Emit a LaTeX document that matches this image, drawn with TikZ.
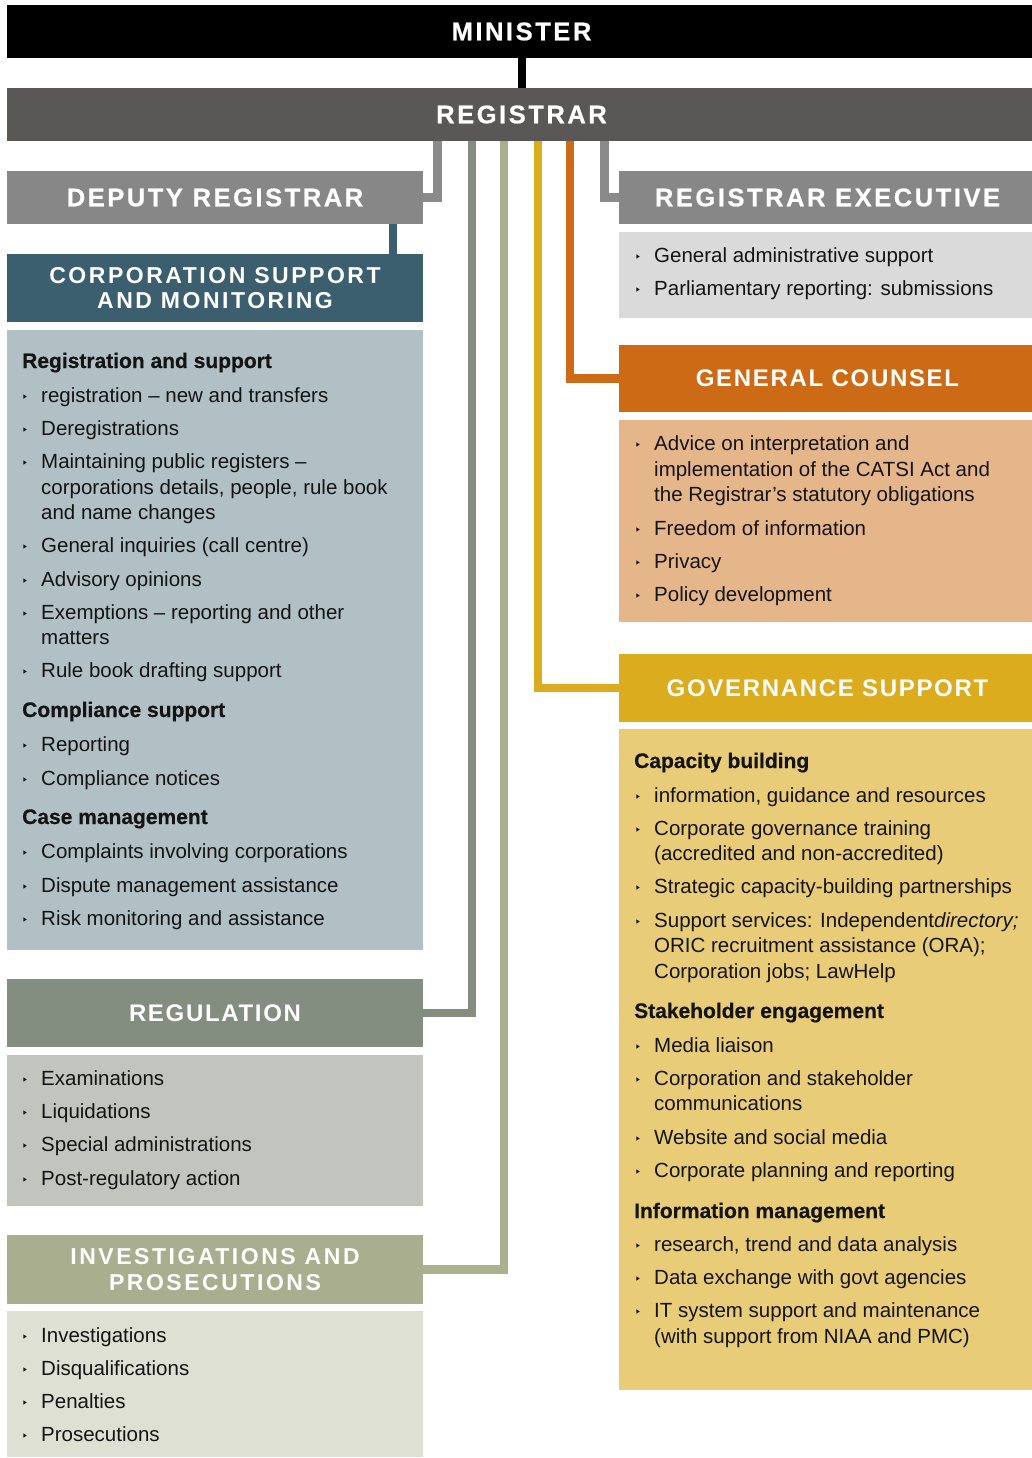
\documentclass[tikz,border=0pt]{standalone}
\usepackage{fontspec}
\setmainfont{Liberation Sans}
\newfontfamily\hdheavy[LetterSpace=10,FakeBold=0.7]{Liberation Sans Bold}
\newfontfamily\hdlight[LetterSpace=7]{Liberation Sans Bold}
\newfontfamily\hdwide[LetterSpace=11]{Liberation Sans Bold}
\newfontfamily\subfont[FakeBold=0.5]{Liberation Sans Bold}

\definecolor{ink}{HTML}{141414}
\definecolor{registrarc}{HTML}{595856}
\definecolor{greyhd}{HTML}{878787}
\definecolor{greyln}{HTML}{8A8A8A}
\definecolor{execbody}{HTML}{DADADA}
\definecolor{corphd}{HTML}{3B5F6E}
\definecolor{corpbody}{HTML}{B1C0C5}
\definecolor{regulhd}{HTML}{838D80}
\definecolor{regulbody}{HTML}{C1C5BD}
\definecolor{investhd}{HTML}{A9AE8E}
\definecolor{investln}{HTML}{ABB08F}
\definecolor{investbody}{HTML}{DDE0D3}
\definecolor{gchd}{HTML}{CD6A15}
\definecolor{gcbody}{HTML}{E6B68B}
\definecolor{govhd}{HTML}{DBAC1E}
\definecolor{govbody}{HTML}{E8CC78}

\tikzset{
  box/.style={rectangle, anchor=north west, inner sep=0pt, outer sep=0pt, text=white},
  heavyhd/.style={box, font=\fontsize{25.5}{25}\hdheavy},
  lighthd/.style={box, font=\fontsize{24}{25}\hdlight},
  widehd/.style={box, align=center, font=\fontsize{23}{25.5}\hdwide},
  panel/.style={box},
  txt/.style={anchor=base west, inner sep=0pt, text=ink, font=\fontsize{20.5}{25}\selectfont},
  subhd/.style={anchor=base west, inner sep=0pt, text=ink, font=\fontsize{21}{25}\subfont},
  conn/.style={line width=8.5pt, line join=miter},
}

\newcounter{ln}
% bullet line: bullet x, cap-centre y, text
\newcommand\bl[3]{%
  \stepcounter{ln}%
  \fill[ink] (#1-1.7,#2-0.7) -- (#1+1.7,#2+1.5) -- (#1-1.7,#2+3.7) -- cycle;
  \node[txt] (ln\arabic{ln}) at (#1+16,#2+7) {#3};
}
% continuation line of a bullet item
\newcommand\cl[3]{%
  \stepcounter{ln}%
  \node[txt] (ln\arabic{ln}) at (#1+16,#2+7) {#3};
}
% bold sub-heading
\newcommand\sh[3]{%
  \stepcounter{ln}%
  \node[subhd] (ln\arabic{ln}) at (#1,#2+7) {#3};
}

\begin{document}
\begin{tikzpicture}[x=1pt,y=-1pt]
\fill[white] (0,0) rectangle (1032,1458);
\useasboundingbox (0,0) rectangle (1032,1458);

% top of the chart
\node[heavyhd, fill=black, minimum width=1029pt, minimum height=53pt] (minister) at (7,5) {MINISTER};
\node[heavyhd, fill=registrarc, minimum width=1029pt, minimum height=53pt] (registrar) at (7,88) {REGISTRAR};
\node[heavyhd, fill=greyhd, minimum width=416pt, minimum height=53pt] (deputy) at (7,171) {DEPUTY REGISTRAR};
\node[heavyhd, fill=greyhd, minimum width=417pt, minimum height=53pt] (exec) at (619,171) {REGISTRAR EXECUTIVE};

% left column
\node[widehd, fill=corphd, minimum width=416pt, minimum height=68pt] (corp) at (7,254) {CORPORATION SUPPORT\\AND MONITORING};
\node[panel, fill=corpbody, minimum width=416pt, minimum height=620pt] (corpbody) at (7,330) {};
\node[lighthd, fill=regulhd, minimum width=416pt, minimum height=68pt] (regul) at (7,979) {REGULATION};
\node[panel, fill=regulbody, minimum width=416pt, minimum height=151pt] (regulbody) at (7,1055) {};
\node[widehd, fill=investhd, minimum width=416pt, minimum height=69pt] (invest) at (7,1235) {INVESTIGATIONS AND\\PROSECUTIONS};
\node[panel, fill=investbody, minimum width=416pt, minimum height=146pt] (investbody) at (7,1311) {};

% right column
\node[panel, fill=execbody, minimum width=417pt, minimum height=86pt] (execbody) at (619,232) {};
\node[lighthd, fill=gchd, minimum width=417pt, minimum height=67pt] (gc) at (619,345) {GENERAL COUNSEL};
\node[panel, fill=gcbody, minimum width=417pt, minimum height=202pt] (gcbody) at (619,420) {};
\node[lighthd, fill=govhd, minimum width=417pt, minimum height=68pt] (gov) at (619,654) {GOVERNANCE SUPPORT};
\node[panel, fill=govbody, minimum width=417pt, minimum height=661pt] (govbody) at (619,729) {};

% connector columns
\coordinate (xmin) at (522,0);
\coordinate (xdep) at (437.5,0);
\coordinate (xreg) at (472,0);
\coordinate (xinv) at (504,0);
\coordinate (xgov) at (538,0);
\coordinate (xgc) at (570,0);
\coordinate (xexe) at (604.7,0);
\coordinate (xcorp) at (393,0);

\draw[conn, black, line width=8pt] (minister.south -| xmin) -- (registrar.north -| xmin);
\draw[conn, greyln] (registrar.south -| xdep) |- (deputy.east);
\draw[conn, regulhd] (registrar.south -| xreg) |- (regul.east);
\draw[conn, investln] (registrar.south -| xinv) |- (invest.east);
\draw[conn, govhd] (registrar.south -| xgov) |- (gov.west);
\draw[conn, gchd] (registrar.south -| xgc) |- (gc.west);
\draw[conn, greyln] (registrar.south -| xexe) |- (exec.west);
\draw[conn, corphd] (deputy.south -| xcorp) -- (corp.north -| xcorp);

% corporation support and monitoring
\sh{22}{361}{Registration and support}
\bl{25}{395}{registration – new and transfers}
\bl{25}{428}{Deregistrations}
\bl{25}{461}{Maintaining public registers –}
\cl{25}{487}{corporations details, people, rule book}
\cl{25}{512}{and name changes}
\bl{25}{545}{General inquiries (call centre)}
\bl{25}{579}{Advisory opinions}
\bl{25}{612}{Exemptions – reporting and other}
\cl{25}{637}{matters}
\bl{25}{670}{Rule book drafting support}
\sh{22}{710}{Compliance support}
\bl{25}{744}{Reporting}
\bl{25}{778}{Compliance notices}
\sh{22}{817}{Case management}
\bl{25}{851}{Complaints involving corporations}
\bl{25}{885}{Dispute management assistance}
\bl{25}{918}{Risk monitoring and assistance}

% regulation
\bl{25}{1078}{Examinations}
\bl{25}{1111}{Liquidations}
\bl{25}{1144}{Special administrations}
\bl{25}{1178}{Post-regulatory action}

% investigations and prosecutions
\bl{25}{1335}{Investigations}
\bl{25}{1368}{Disqualifications}
\bl{25}{1401}{Penalties}
\bl{25}{1434}{Prosecutions}

% registrar executive
\bl{638}{255}{General administrative support}
\bl{638}{288}{Parliamentary reporting: submissions}

% general counsel
\bl{638}{443}{Advice on interpretation and}
\cl{638}{469}{implementation of the CATSI Act and}
\cl{638}{494}{the Registrar’s statutory obligations}
\bl{638}{528}{Freedom of information}
\bl{638}{561}{Privacy}
\bl{638}{594}{Policy development}

% governance support
\sh{634}{761}{Capacity building}
\bl{638}{795}{information, guidance and resources}
\bl{638}{828}{Corporate governance training}
\cl{638}{853}{(accredited and non-accredited)}
\bl{638}{886}{Strategic capacity-building partnerships}
\bl{638}{920}{Support services: Independent\textit{directory;}}
\cl{638}{945}{ORIC recruitment assistance (ORA);}
\cl{638}{971}{Corporation jobs; LawHelp}
\sh{634}{1011}{Stakeholder engagement}
\bl{638}{1045}{Media liaison}
\bl{638}{1078}{Corporation and stakeholder}
\cl{638}{1103}{communications}
\bl{638}{1137}{Website and social media}
\bl{638}{1170}{Corporate planning and reporting}
\sh{634}{1211}{Information management}
\bl{638}{1244}{research, trend and data analysis}
\bl{638}{1277}{Data exchange with govt agencies}
\bl{638}{1310}{IT system support and maintenance}
\cl{638}{1336}{(with support from NIAA and PMC)}
\end{tikzpicture}
\end{document}
